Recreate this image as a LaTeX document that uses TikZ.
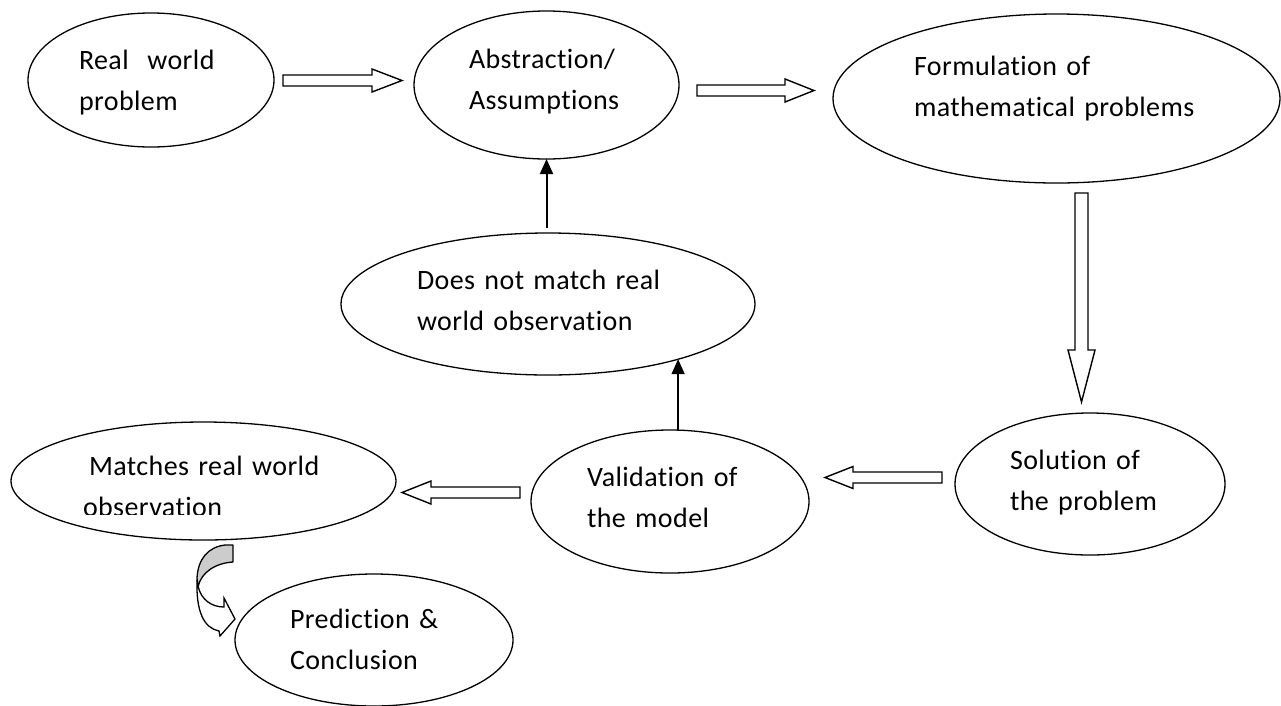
\documentclass[tikz,border=0pt]{standalone}
\usepackage{fontspec}
\setmainfont[Ligatures={NoCommon}, WordSpace=0.8, LetterSpace=1.5]{Carlito}
\usetikzlibrary{calc,arrows.meta,shapes.geometric}
\tikzset{
  oval/.style={ellipse, draw, line width=1.3pt, inner sep=0pt, outer sep=0pt},
  txt/.style={anchor=base west, inner sep=0pt, outer sep=0pt, align=left, text width=320pt,
    font=\fontsize{28}{41}\selectfont},
  barrow/.style={draw, line width=1.4pt, fill=white, line join=miter},
  blk/.style={line width=2pt, -{Triangle[width=13pt,length=15pt]}},
  curvgray/.style={draw, line width=1.3pt, fill=gray!40, line join=round},
  curvwhite/.style={draw, line width=1.3pt, fill=white, line join=miter},
}
% block arrow: #1 tail, #2 tip, #3 shaft half width, #4 head half width, #5 head length
\newcommand{\blockarr}[5]{%
  \coordinate (#1b) at ($(#2)!#5!(#1)$);
  \draw[barrow] ($(#1)!#3!90:(#2)$) -- ($(#1b)!#3!90:(#2)$) -- ($(#1b)!#4!90:(#2)$)
    -- (#2) -- ($(#1b)!#4!-90:(#2)$) -- ($(#1b)!#3!-90:(#2)$) -- ($(#1)!#3!-90:(#2)$) -- cycle;}
\begin{document}
\begin{tikzpicture}[x=1pt, y=-1pt]
\useasboundingbox (0,0) rectangle (1281,705);
\fill[white] (0,0) rectangle (1281,705);

% ellipses
\node[oval, minimum width=246pt, minimum height=134pt] (rw) at (151,80) {};
\node[oval, minimum width=265pt, minimum height=148pt] (abs) at (546.5,85) {};
\node[oval, minimum width=447pt, minimum height=169pt] (form) at (1056.5,98.5) {};
\node[oval, minimum width=414pt, minimum height=142pt] (dnm) at (548,304) {};
\node[oval, minimum width=278pt, minimum height=143pt] (val) at (670,501.5) {};
\node[oval, minimum width=270pt, minimum height=142pt] (sol) at (1090,484) {};
\node[oval, minimum width=385pt, minimum height=118pt] (mat) at (203.5,481) {};
\node[oval, minimum width=278pt, minimum height=132pt] (pred) at (374,640) {};

% texts
\node[txt] (rwt) at (79,69) {Real~~world\\problem};
\node[txt] (abst) at (469,68) {Abstraction/\\Assumptions};
\node[txt] (formt) at (914,75) {Formulation of\\mathematical problems};
\node[txt] (dnmt) at (417,289) {Does not match real\\world observation};
\node[txt] (valt) at (587,486) {Validation of\\the model};
\node[txt] (solt) at (1010,469) {Solution of\\the problem};
\begin{scope}
  \clip (0,0) rectangle (1281,514);
  \node[txt] (matt) at (83,475) {\hspace*{6pt}Matches real world\\observation};
\end{scope}
\node[txt] (predt) at (290,628) {Prediction \&\\Conclusion};

% block arrows
\coordinate (a1s) at ($(rw.east)+(9,0.5)$);
\coordinate (a1t) at ($(abs.west)+(-12,-4.5)$);
\blockarr{a1s}{a1t}{5.5pt}{11.5pt}{30pt}
\coordinate (a2s) at ($(abs.east)+(18,5.5)$);
\coordinate (a2t) at ($(form.west)+(-19,-8)$);
\blockarr{a2s}{a2t}{5.5pt}{11.5pt}{29pt}
\coordinate (a3s) at ($(form.south)+(25,10)$);
\coordinate (a3t) at ($(sol.north)+(-8.5,-11)$);
\blockarr{a3s}{a3t}{6.5pt}{13.5pt}{52pt}
\coordinate (a4s) at ($(sol.west)+(-13,-6.5)$);
\coordinate (a4t) at ($(val.east)+(16,-24)$);
\blockarr{a4s}{a4t}{5.5pt}{11pt}{28pt}
\coordinate (a5s) at ($(val.west)+(-11,-9)$);
\coordinate (a5t) at ($(mat.east)+(6,11.5)$);
\blockarr{a5s}{a5t}{5.5pt}{11.5pt}{29pt}

% black arrows
\draw[blk, shorten <=5pt] (abs.south |- dnm.north) -- (abs.south);
\draw[blk] (val.north -| dnm.-23.5) -- (dnm.-23.5);

% curved arrow from Matches to Prediction
\draw[curvwhite] (198,586) .. controls (201,600) and (212,607) .. (224,607)
  -- (224,598) -- (235,619) -- (220,636) -- (219,631)
  .. controls (204,628) and (196,612) .. (197,580) -- cycle;
\draw[curvgray] (225,545) -- (233,545) -- (233,562)
  .. controls (216,563) and (201,572) .. (198,587)
  -- (197,578) .. controls (198,559) and (208,547) .. (225,545) -- cycle;
\end{tikzpicture}
\end{document}
